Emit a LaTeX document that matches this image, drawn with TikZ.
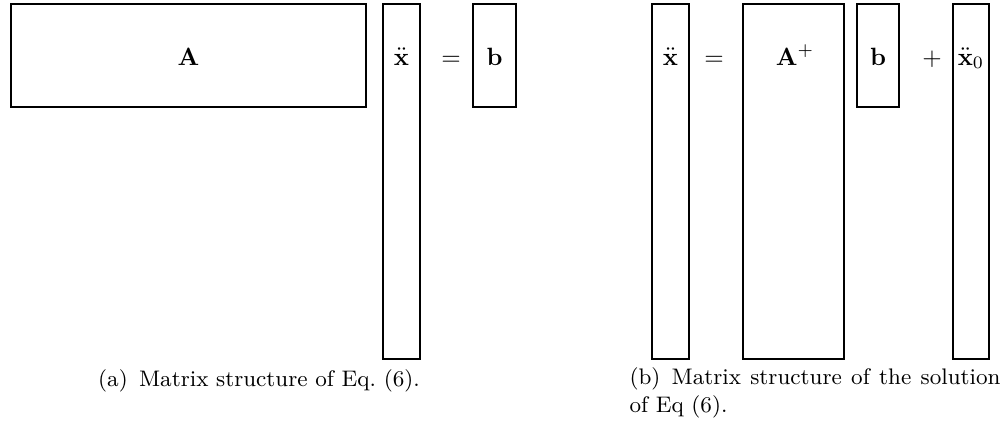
\documentclass[tikz,border=0pt]{standalone}
\begin{document}
\begin{tikzpicture}[x=0.4pt,y=-0.4pt,
  mat/.style={draw,line width=0.85pt,inner sep=0pt,rectangle},
  lbl/.style={anchor=base,inner sep=0pt},
  captext/.style={font=\small,inner sep=0pt}]
\useasboundingbox (0,0) rectangle (1006,433);
% left: A xdd = b
\node[mat,minimum width=142pt,minimum height=41.2pt] (A) at (188.5,55.5) {};
\node[mat,minimum width=14.8pt,minimum height=142pt] (xl) at (401.5,181.5) {};
\node[mat,minimum width=17.2pt,minimum height=41.2pt] (bl) at (494.5,55.5) {};
\node[lbl] (tA) at (188.5,65) {$\mathbf{A}$};
\node[lbl] (txl) at (401.5,65) {$\ddot{\mathbf{x}}$};
\node[lbl] (eql) at (451,65) {$=$};
\node[lbl] (tbl) at (494.5,65) {$\mathbf{b}$};
% right: xdd = A+ b + xdd0
\node[mat,minimum width=14.8pt,minimum height=142pt] (xr) at (670.5,181.5) {};
\node[mat,minimum width=40.4pt,minimum height=142pt] (Ap) at (793.5,181.5) {};
\node[mat,minimum width=16.8pt,minimum height=41.2pt] (br) at (878,55.5) {};
\node[mat,minimum width=14.4pt,minimum height=142pt] (x0) at (971,181.5) {};
\node[lbl] (txr) at (670.5,65) {$\ddot{\mathbf{x}}$};
\node[lbl] (eqr) at (714,65) {$=$};
\node[lbl] (tAp) at (795,65) {$\mathbf{A}^{+}$};
\node[lbl] (tbr) at (878,65) {$\mathbf{b}$};
\node[lbl] (plus) at (932,65) {$+$};
\node[lbl] (tx0) at (971,65) {$\ddot{\mathbf{x}}_0$};
% captions
\node[captext,anchor=base] (capa) at (259,386) {(a)\hspace{0.5em}Matrix structure of Eq.\ (6).};
\node[captext,anchor=base west] (capb1) at (629,384) {\makebox[148.4pt][s]{(b)\hspace{0.5em}Matrix structure of the solution}};
\node[captext,anchor=base west] (capb2) at (629,412) {of Eq (6).};
\end{tikzpicture}
\end{document}
